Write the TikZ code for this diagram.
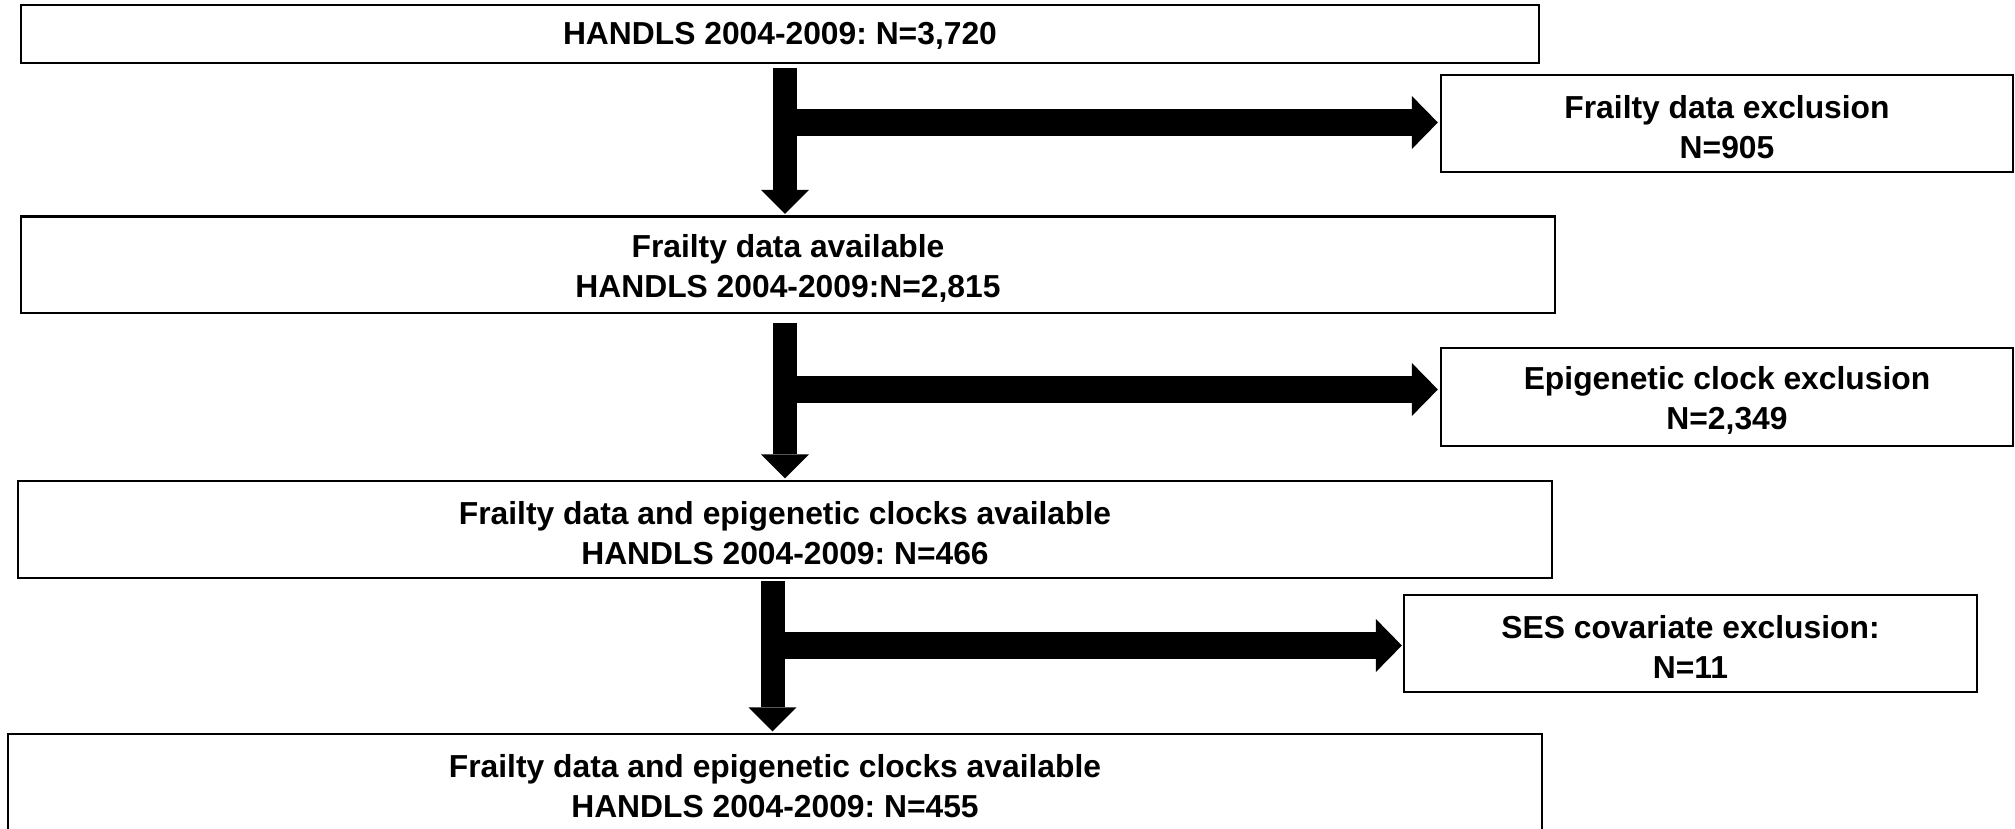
\documentclass[tikz,border=0pt]{standalone}
\usepackage{fontspec}
\setmainfont{Liberation Sans}
\usetikzlibrary{arrows.meta}
\newcommand{\toppad}[1]{\rule{0pt}{#1}}
\tikzset{
  box/.style={draw=black, line width=2.3pt, fill=white, inner sep=0pt, align=center,
    font=\fontsize{31.8}{40}\selectfont\bfseries\frenchspacing},
  vflow/.style={line width=24pt, -{Triangle[width=48pt,length=24pt,line width=0pt]}},
  hflow/.style={line width=27pt, -{Triangle[width=53pt,length=26pt,line width=0pt]}}
}
\begin{document}
\begin{tikzpicture}[x=1pt,y=-1pt]
\useasboundingbox (0,0) rectangle (2015,829);
% main boxes
\node[box, minimum width=1518pt, minimum height=58pt] (b1) at (780,34) {\toppad{26pt}HANDLS 2004-2009: N=3,720};
\node[box, minimum width=1534pt, minimum height=96.5pt] (b2) at (788,264.75) {\toppad{29.5pt}Frailty data available\\HANDLS 2004-2009:N=2,815};
\node[box, minimum width=1534pt, minimum height=97pt] (b3) at (785,529.5) {\toppad{29.5pt}Frailty data and epigenetic clocks available\\HANDLS 2004-2009: N=466};
\node[box, minimum width=1534pt, minimum height=97pt] (b4) at (775,782.5) {\toppad{29.5pt}Frailty data and epigenetic clocks available\\HANDLS 2004-2009: N=455};
% exclusion boxes
\node[box, minimum width=572pt, minimum height=97pt] (e1) at (1727,123.5) {\toppad{29.5pt}Frailty data exclusion\\N=905};
\node[box, minimum width=572pt, minimum height=98pt] (e2) at (1727,397) {\toppad{29.5pt}Epigenetic clock exclusion\\N=2,349};
\node[box, minimum width=573pt, minimum height=97pt] (e3) at (1690.5,643.5) {\toppad{29.5pt}SES covariate exclusion:\\N=11};
% column positions of the vertical arrows
\coordinate (c1) at (785,0);
\coordinate (c3) at (772.5,0);
% vertical arrows
\draw[vflow] ([yshift=-4pt]c1 |- b1.south) -- ([yshift=1.5pt]c1 |- b2.north);
\draw[vflow] ([yshift=-9pt]c1 |- b2.south) -- ([yshift=1.5pt]c1 |- b3.north);
\draw[vflow] ([yshift=-2pt]c3 |- b3.south) -- ([yshift=1.5pt]c3 |- b4.north);
% horizontal arrows
\draw[hflow] ([yshift=1pt]c1 |- e1.west) -- ([xshift=-2pt,yshift=1pt]e1.west);
\draw[hflow] ([yshift=7.5pt]c1 |- e2.west) -- ([xshift=-2pt,yshift=7.5pt]e2.west);
\draw[hflow] ([yshift=-2pt]c3 |- e3.west) -- ([xshift=-1pt,yshift=-2pt]e3.west);
\end{tikzpicture}
\end{document}
